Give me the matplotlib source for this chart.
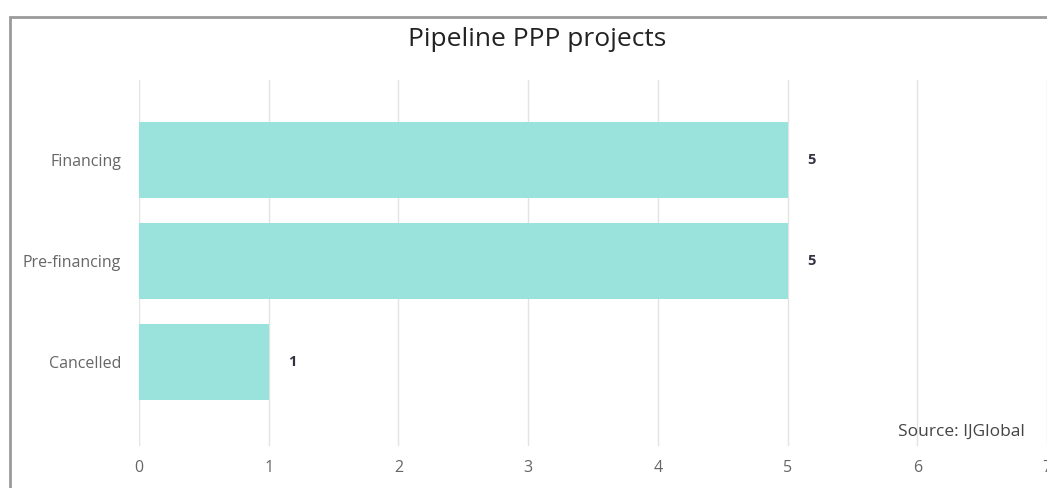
import matplotlib.pyplot as plt
from matplotlib.patches import Rectangle

plt.rcParams['font.family'] = ['Open Sans', 'DejaVu Sans']

categories = ['Financing', 'Pre-financing', 'Cancelled']
values = [5, 5, 1]
x_ticks = [0, 1, 2, 3, 4, 5, 6, 7]

bar_color = '#99e3dc'

fig = plt.figure(figsize=(10.47, 4.88), dpi=100)
ax = fig.add_axes([139 / 1047, 1 - 446 / 488, 908 / 1047, (446 - 80) / 488])

pos = list(range(len(categories)))
ax.barh(pos, values, height=0.75, color=bar_color, zorder=2)

for p, v in zip(pos, values):
    ax.text(v + 0.15, p, str(v), va='center', ha='left', fontsize=10.5,
            fontweight='bold', color='#333344')

ax.set_xlim(0, 7)
ax.set_ylim(2.83, -0.79)
ax.set_xticks(x_ticks)
ax.set_yticks(pos)
ax.set_yticklabels(categories)
ax.grid(axis='x', color='#e3e3e3', linewidth=1, zorder=0)
ax.tick_params(axis='x', length=0, pad=10, labelsize=11.5, labelcolor='#666666')
ax.tick_params(axis='y', length=0, pad=13, labelsize=11.5, labelcolor='#666666')
for s in ax.spines.values():
    s.set_visible(False)

fig.text(537 / 1047, 1 - 40 / 488, 'Pipeline PPP projects', ha='center', va='center',
         fontsize=19, color='#222222')
fig.text(1025 / 1047, 1 - 432 / 488, 'Source: IJGlobal', ha='right', va='center',
         fontsize=12.5, color='#444444')

# outer frame of the screenshot
fig.add_artist(Rectangle((10 / 1047, -0.1), 1.2, (1 - 17 / 488) + 0.1,
                         transform=fig.transFigure, fill=False,
                         edgecolor='#9a9a9a', linewidth=2))

fig.savefig('out.png', dpi=100)
